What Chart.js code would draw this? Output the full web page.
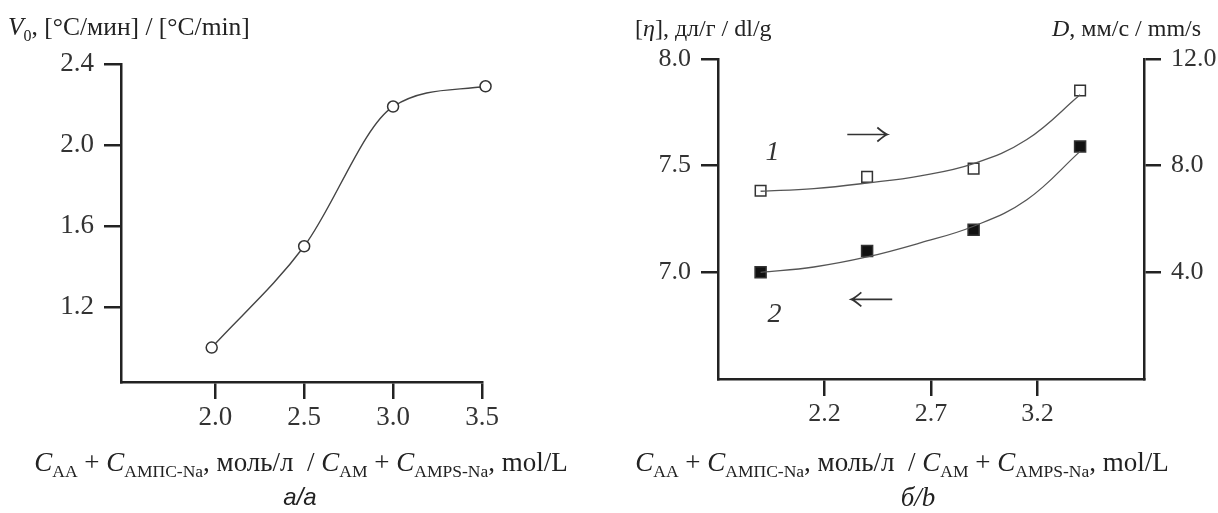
<!DOCTYPE html>
<html>
<head>
<meta charset="utf-8">
<script src="https://cdn.jsdelivr.net/npm/chart.js@4.4.1/dist/chart.umd.min.js"></script>
<style>
  body { margin: 0; background: #fff; }
  #wrap { position: relative; width: 1218px; height: 513px; overflow: hidden; font-family: "Liberation Serif", serif; color: #222; }
  .box { position: absolute; top: 0; }
  .lbl { position: absolute; white-space: nowrap; font-size: 24px; line-height: 24px; }
  .big { font-size: 27px; line-height: 27px; }
  .mid { transform: translateX(-50%); }
  sub { font-size: 16px; vertical-align: -6px; line-height: 0; }
  .big sub { font-size: 17.5px; }
  .sans { font-family: "Liberation Sans", sans-serif; font-style: italic; font-size: 24px; }
</style>
</head>
<body>
<div id="wrap">
  <div class="box" style="left:0"><canvas id="chartA" width="600" height="513"></canvas></div>
  <div class="box" style="left:600px"><canvas id="chartB" width="618" height="513"></canvas></div>

  <div class="lbl" style="left:8px;top:15px;font-size:25.5px"><i>V</i><sub>0</sub>, [°C/мин] / [°C/min]</div>
  <div class="lbl big mid" style="left:301px;top:449px"><i>C</i><sub>AA</sub> + <i>C</i><sub>AMПC-Na</sub>, моль/л &nbsp;/ <i>C</i><sub>AM</sub> + <i>C</i><sub>AMPS-Na</sub>, mol/L</div>
  <div class="lbl mid sans" style="left:300px;top:485px">а/а</div>

  <div class="lbl" style="left:635px;top:16px">[<i>η</i>], дл/г / dl/g</div>
  <div class="lbl" style="left:1052px;top:16px"><i>D</i>, мм/с / mm/s</div>
  <div class="lbl big mid" style="left:902px;top:449px"><i>C</i><sub>AA</sub> + <i>C</i><sub>AMПC-Na</sub>, моль/л &nbsp;/ <i>C</i><sub>AM</sub> + <i>C</i><sub>AMPS-Na</sub>, mol/L</div>
  <div class="lbl big mid" style="left:918px;top:484px"><i>б/b</i></div>
</div>

<script>
// panel a: V0 vs total monomer concentration
var xA = [1.98, 2.5, 3.0, 3.52];
var v0 = [1.0, 1.5, 2.19, 2.29];
var xTicksA = [2.0, 2.5, 3.0, 3.5];
var yTicksA = [1.2, 1.6, 2.0, 2.4];

// panel b: measured points, curve 1 = D (right axis), curve 2 = [eta] (left axis)
var xB = [1.9, 2.4, 2.9, 3.4];
var dSpeed = [7.06, 7.58, 7.89, 10.82];
var eta = [7.0, 7.1, 7.2, 7.59];
// fitted curves as drawn in the figure
var xFit = [1.9, 2.15, 2.4, 2.65, 2.9, 3.15, 3.4];
var dFit = [7.04, 7.14, 7.35, 7.62, 8.08, 8.98, 10.66];
var etaFit = [7.0, 7.025, 7.072, 7.138, 7.216, 7.34, 7.567];
var xTicksB = [2.2, 2.7, 3.2];
var yTicksEta = [7.0, 7.5, 8.0];
var yTicksD = [4, 8, 12];

// curve numbers and arrows (data coords of panel b)
var notesB = [{ t: "1", x: 1.956, y: 7.56 }, { t: "2", x: 1.965, y: 6.80 }];
var arrowsB = [{ x0: 2.307, x1: 2.495, y: 7.646 }, { x0: 2.518, x1: 2.326, y: 6.873 }];

function pts(xs, ys) {
  return xs.map(function (x, i) { return { x: x, y: ys[i] }; });
}

function axis(o) {
  return {
    type: "linear",
    min: o.min,
    max: o.max,
    position: o.position,
    grid: { drawOnChartArea: false, drawTicks: true, tickLength: 17, color: "#222", lineWidth: 2.5 },
    border: { display: true, color: "#222", width: 2.5 },
    ticks: {
      color: "#333",
      padding: o.pad,
      font: { family: "Liberation Serif", size: o.fs || 26 },
      callback: function (v) { return v.toFixed(1); }
    },
    afterBuildTicks: function (s) { s.ticks = o.ticks.map(function (v) { return { value: v }; }); },
    afterFit: function (s) {
      if (o.w) s.width = o.w;
      if (o.h) s.height = o.h;
    }
  };
}

new Chart(document.getElementById("chartA"), {
  type: "scatter",
  data: {
    datasets: [{
      data: pts(xA, v0),
      showLine: true,
      clip: false,
      cubicInterpolationMode: "monotone",
      borderColor: "#444",
      borderWidth: 1.4,
      pointStyle: "circle",
      pointRadius: 5.5,
      pointBorderColor: "#333",
      pointBorderWidth: 1.5,
      pointBackgroundColor: "#fff"
    }]
  },
  options: {
    responsive: false,
    animation: false,
    layout: { padding: { left: 0, top: 64, right: 118, bottom: 0 } },
    plugins: { legend: { display: false }, tooltip: { enabled: false } },
    scales: {
      x: axis({ min: 1.47, max: 3.5, ticks: xTicksA, pad: 3, h: 131, position: "bottom", fs: 27 }),
      y: axis({ min: 0.83, max: 2.4, ticks: yTicksA, pad: 10, w: 121, position: "left", fs: 27 })
    }
  }
});

var notesPlugin = {
  id: "notes",
  afterDatasetsDraw: function (chart) {
    var ctx = chart.ctx;
    var sx = chart.scales.x, sy = chart.scales.y;
    ctx.save();
    ctx.fillStyle = "#333";
    ctx.font = "italic 28px 'Liberation Serif'";
    ctx.textAlign = "center";
    ctx.textBaseline = "middle";
    notesB.forEach(function (n) {
      ctx.fillText(n.t, sx.getPixelForValue(n.x), sy.getPixelForValue(n.y));
    });
    ctx.strokeStyle = "#333";
    ctx.lineWidth = 1.7;
    arrowsB.forEach(function (a) {
      var p0 = sx.getPixelForValue(a.x0), p1 = sx.getPixelForValue(a.x1), py = sy.getPixelForValue(a.y);
      var d = p1 > p0 ? -1 : 1;
      ctx.beginPath();
      ctx.moveTo(p0, py);
      ctx.lineTo(p1, py);
      ctx.moveTo(p1 + d * 10, py - 7);
      ctx.quadraticCurveTo(p1 + d * 3, py - 1, p1, py);
      ctx.quadraticCurveTo(p1 + d * 3, py + 1, p1 + d * 10, py + 7);
      ctx.stroke();
    });
    ctx.restore();
  }
};

var fitStyle = { showLine: true, tension: 0.4, borderColor: "#555", borderWidth: 1.3, pointRadius: 0 };
var markStyle = { showLine: false, pointStyle: "rect", pointBorderColor: "#333", pointBorderWidth: 1.5 };

new Chart(document.getElementById("chartB"), {
  type: "scatter",
  data: {
    datasets: [
      Object.assign({ data: pts(xFit, dFit), yAxisID: "y2" }, fitStyle),
      Object.assign({ data: pts(xFit, etaFit), yAxisID: "y" }, fitStyle),
      Object.assign({ data: pts(xB, dSpeed), yAxisID: "y2", pointRadius: 7.5, pointBackgroundColor: "#fff" }, markStyle),
      Object.assign({ data: pts(xB, eta), yAxisID: "y", pointRadius: 7.8, pointBackgroundColor: "#111" }, markStyle)
    ]
  },
  options: {
    responsive: false,
    animation: false,
    layout: { padding: { left: 0, top: 59, right: 0, bottom: 0 } },
    plugins: { legend: { display: false }, tooltip: { enabled: false } },
    scales: {
      x: axis({ min: 1.7, max: 3.7, ticks: xTicksB, pad: 3, h: 134, position: "bottom" }),
      y: axis({ min: 6.5, max: 8.0, ticks: yTicksEta, pad: 10, w: 118, position: "left" }),
      y2: axis({ min: 0, max: 12, ticks: yTicksD, pad: 10, w: 74, position: "right" })
    }
  },
  plugins: [notesPlugin]
});
</script>
</body>
</html>
